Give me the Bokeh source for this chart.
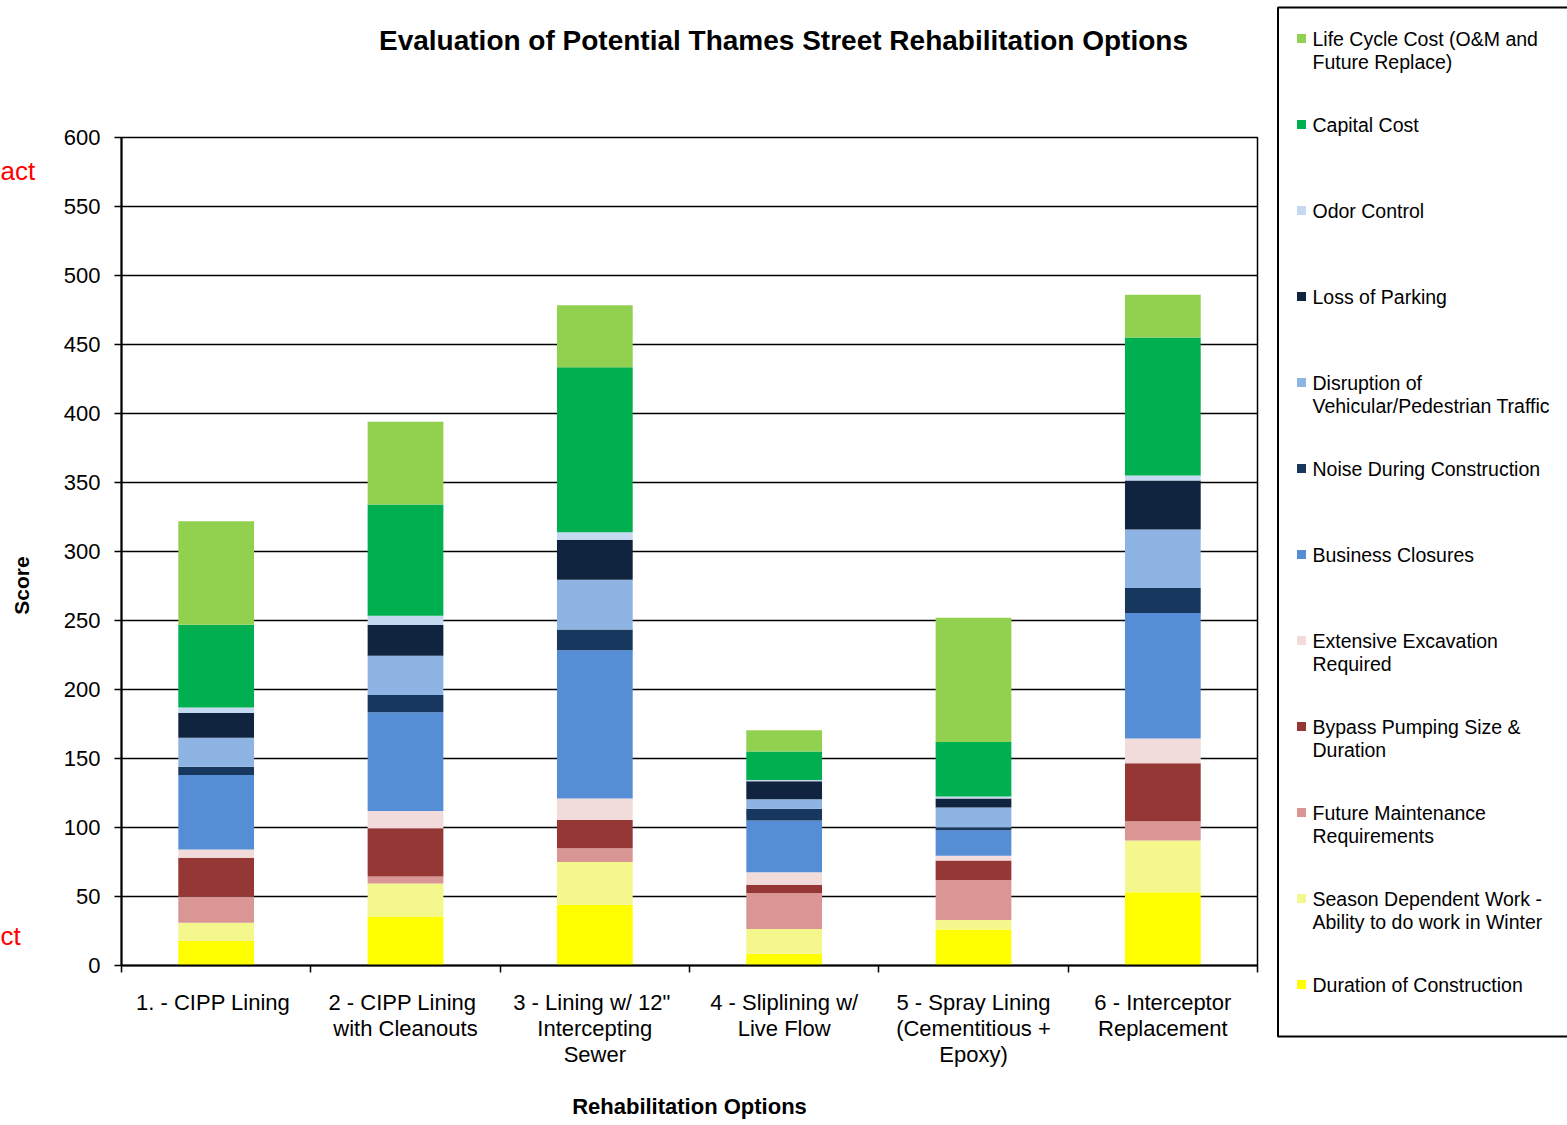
import math
from bokeh.plotting import figure
from bokeh.models import Range1d, FixedTicker, ColumnDataSource
from bokeh.layouts import row, column
from bokeh.embed import file_html
from bokeh.resources import INLINE
from bokeh.core.properties import value

# ---------------- data ----------------
categories = [
    "1. - CIPP  Lining",
    "2 - CIPP  Lining\nwith Cleanouts",
    "3 - Lining  w/ 12\"\nIntercepting\nSewer",
    "4 - Sliplining w/\nLive Flow",
    "5 - Spray Lining\n(Cementitious +\nEpoxy)",
    "6 - Interceptor\nReplacement",
]

# series, listed bottom of the stack to top
duration_of_construction = [18, 35.5, 44, 8.5, 26, 53]
season_dependent_work = [13, 24, 31, 18, 7, 37.5]
future_maintenance = [19, 5, 10, 26, 29, 14]
bypass_pumping = [28, 35, 20.5, 6, 14, 42]
extensive_excavation = [6, 12.5, 15.5, 9, 3.5, 18]
business_closures = [54, 71.5, 107.5, 37.5, 18.5, 91]
noise_during_construction = [6, 12.5, 15, 8.5, 2, 18]
traffic_disruption = [21, 28.5, 36, 7, 14.5, 42.5]
loss_of_parking = [18, 22.5, 29, 13, 6.5, 35.5]
odor_control = [4, 6.5, 5.5, 1, 1.5, 3.5]
capital_cost = [60, 80.5, 119.5, 20.5, 39.5, 100]
life_cycle_cost = [75, 60, 45, 15.5, 90, 31]

series_names = [
    "Duration of Construction",
    "Season Dependent Work -\nAbility to do work in Winter",
    "Future Maintenance\nRequirements",
    "Bypass Pumping Size &\nDuration",
    "Extensive Excavation\nRequired",
    "Business Closures",
    "Noise During Construction",
    "Disruption of\nVehicular/Pedestrian Traffic",
    "Loss of Parking",
    "Odor Control",
    "Capital Cost",
    "Life Cycle Cost (O&M and\nFuture Replace)",
]
series_values = [
    duration_of_construction, season_dependent_work, future_maintenance,
    bypass_pumping, extensive_excavation, business_closures,
    noise_during_construction, traffic_disruption, loss_of_parking,
    odor_control, capital_cost, life_cycle_cost,
]
series_colors = [
    "#FFFF00", "#F3F78C", "#D99694", "#953735", "#F2DCDB", "#558ED5",
    "#17375E", "#8DB4E2", "#10243F", "#C5D9F1", "#00B050", "#92D050",
]

y_ticks = list(range(0, 601, 50))

title_text = "Evaluation of Potential Thames Street Rehabilitation Options"
x_title = "Rehabilitation Options"
y_title = "Score"
side_notes = ["act", "ct"]

FONT = "Liberation Sans"


def no_align(fig):
    try:
        fig.frame_align = False
    except Exception:
        pass


# ---------------- page geometry (pixels) ----------------
PAGE_W, PAGE_H = 1567, 1125
TITLE_H = 100
LEFT_W = 40
LEGEND_X = 1276
FRAME_L, FRAME_R, FRAME_T, FRAME_B = 121, 1257, 137, 965

# ---------------- main chart ----------------
n = len(categories)
xs = [i + 0.5 for i in range(n)]
keys = [f"s{i}" for i in range(len(series_names))]
data = {"x": xs}
for k, v in zip(keys, series_values):
    data[k] = v
source = ColumnDataSource(data)

pw = LEGEND_X - LEFT_W
ph = PAGE_H - TITLE_H
p = figure(width=pw, height=ph, x_range=Range1d(0, n), y_range=Range1d(0, 600),
           output_backend="svg", toolbar_location=None,
           min_border_left=FRAME_L - LEFT_W, min_border_right=LEGEND_X - FRAME_R,
           min_border_top=FRAME_T - TITLE_H, min_border_bottom=PAGE_H - FRAME_B)
no_align(p)
p.background_fill_color = "white"
p.border_fill_color = "white"
p.outline_line_color = "black"
p.outline_line_width = 1.5

p.vbar_stack(keys, x="x", width=0.4, color=series_colors, line_color=None, source=source)

p.xgrid.visible = False
p.ygrid.grid_line_color = "black"
p.ygrid.grid_line_width = 1.5
p.ygrid.ticker = FixedTicker(ticks=y_ticks)

p.yaxis.ticker = FixedTicker(ticks=y_ticks)
p.yaxis.major_label_text_font = FONT
p.yaxis.major_label_text_font_size = "22px"
p.yaxis.major_label_text_color = "black"
p.yaxis.major_tick_out = 7
p.yaxis.major_tick_in = 0
p.yaxis.major_tick_line_width = 1.5
p.yaxis.major_tick_line_color = "black"
p.yaxis.minor_tick_line_color = None
p.yaxis.axis_line_width = 2
p.yaxis.axis_line_color = "black"
p.yaxis.major_label_standoff = 14

p.xaxis.ticker = FixedTicker(ticks=xs, minor_ticks=list(range(0, n + 1)))
p.xaxis.major_label_overrides = {x: c for x, c in zip(xs, categories)}
p.xaxis.major_label_text_font = FONT
p.xaxis.major_label_text_font_size = "22px"
p.xaxis.major_label_text_color = "black"
try:
    p.xaxis.major_label_text_line_height = 1.05
except Exception:
    pass
p.xaxis.major_tick_line_color = None
p.xaxis.major_tick_out = 0
p.xaxis.major_tick_in = 0
p.xaxis.minor_tick_line_color = "black"
p.xaxis.minor_tick_line_width = 1.5
p.xaxis.minor_tick_out = 7
p.xaxis.minor_tick_in = 0
p.xaxis.axis_line_width = 2
p.xaxis.axis_line_color = "black"
p.xaxis.major_label_standoff = 17
p.xaxis.axis_label = x_title
p.xaxis.axis_label_text_font = FONT
p.xaxis.axis_label_text_font_size = "22px"
p.xaxis.axis_label_text_font_style = "bold"
p.xaxis.axis_label_text_color = "black"
p.xaxis.axis_label_standoff = 24

# ---------------- title strip ----------------
tf = figure(width=LEGEND_X, height=TITLE_H, x_range=Range1d(0, LEGEND_X),
            y_range=Range1d(0, TITLE_H), output_backend="svg", toolbar_location=None,
            x_axis_type=None, y_axis_type=None, min_border=0)
no_align(tf)
tf.outline_line_color = None
tf.text(x=[783], y=[TITLE_H - 40], text=[title_text], text_font=value(FONT),
        text_font_size="28px", text_font_style="bold", text_color="black",
        text_align="center", text_baseline="middle")

# ---------------- left strip (axis title + side notes) ----------------
lf = figure(width=LEFT_W, height=ph, x_range=Range1d(0, LEFT_W),
            y_range=Range1d(PAGE_H - FRAME_B, PAGE_H - FRAME_T),
            output_backend="svg", toolbar_location=None,
            x_axis_type=None, y_axis_type=None, min_border=0,
            min_border_top=FRAME_T - TITLE_H, min_border_bottom=PAGE_H - FRAME_B)
no_align(lf)
lf.outline_line_color = None
lf.text(x=[21], y=[PAGE_H - 585], text=[y_title], text_font=value(FONT),
        text_font_size="21px", text_font_style="bold", text_color="black",
        text_align="center", text_baseline="middle", angle=math.pi / 2)
lf.text(x=[0, 0], y=[PAGE_H - 170, PAGE_H - 935], text=side_notes, text_font=value(FONT),
        text_font_size="26px", text_color="red", text_align="left", text_baseline="middle")

# ---------------- legend panel ----------------
LW = PAGE_W - LEGEND_X
lg = figure(width=LW, height=PAGE_H, x_range=Range1d(LEGEND_X, PAGE_W),
            y_range=Range1d(0, PAGE_H), output_backend="svg", toolbar_location=None,
            x_axis_type=None, y_axis_type=None, min_border=0)
no_align(lg)
lg.outline_line_color = None
lg.quad(left=LEGEND_X + 1.5, right=PAGE_W + 20, top=PAGE_H - 7, bottom=PAGE_H - 1036,
        fill_color=None, line_color="black", line_width=2)

legend_names = series_names[::-1]
legend_colors = series_colors[::-1]
item_y = [PAGE_H - (38 + 86 * i) for i in range(len(legend_names))]
lg.rect(x=[1301] * len(legend_names), y=item_y, width=9, height=9,
        color=legend_colors, line_color=None)
tx, ty, tt = [], [], []
for y0, name in zip(item_y, legend_names):
    for j, line in enumerate(name.split("\n")):
        tx.append(1312)
        ty.append(y0 - 23 * j)
        tt.append(line)
lg.text(x=tx, y=ty, text=tt, text_font=value(FONT), text_font_size="19.5px",
        text_color="black", text_align="left", text_baseline="middle")

layout = row(column(tf, row(lf, p)), lg)
open("out.html", "w").write(file_html(layout, INLINE))
